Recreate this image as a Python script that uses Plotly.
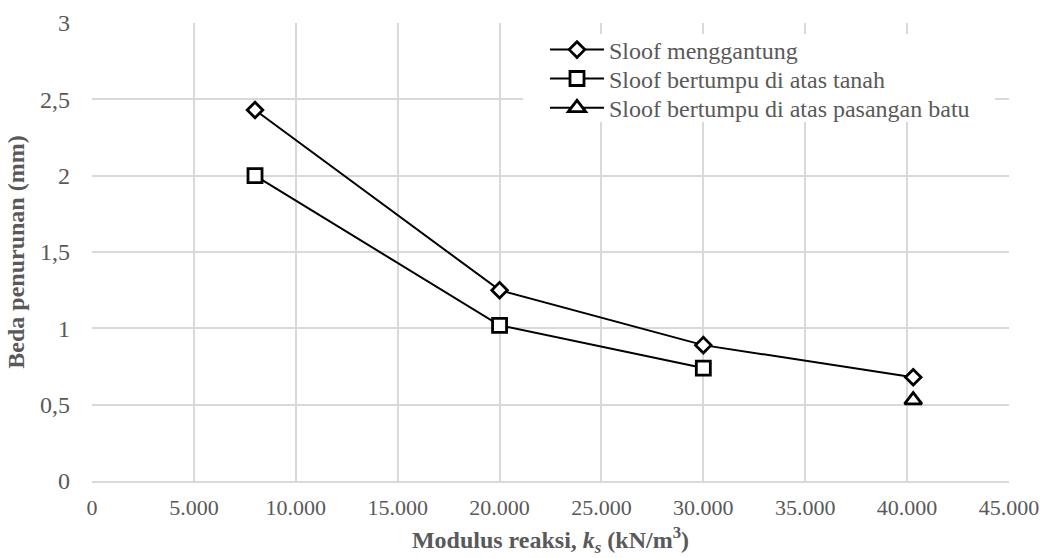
import plotly.graph_objects as go

# Data
ks_menggantung = [8000, 20000, 30000, 40300]
bp_menggantung = [2.43, 1.25, 0.89, 0.68]

ks_tanah = [8000, 20000, 30000]
bp_tanah = [2.00, 1.02, 0.74]

ks_batu = [40300]
bp_batu = [0.53]

names = ["Sloof menggantung", "Sloof bertumpu di atas tanah", "Sloof bertumpu di atas pasangan batu"]

FONT = "Liberation Serif, Times New Roman, serif"
TICK_COLOR = "#595959"
GRID = "#d9d9d9"
FS = 24

fig = go.Figure()
fig.add_trace(go.Scatter(
    x=ks_menggantung, y=bp_menggantung, name=names[0], mode="lines+markers",
    line=dict(color="black", width=2), legend="legend",
    marker=dict(symbol="diamond", size=12, color="white", line=dict(color="black", width=2.8)),
))
fig.add_trace(go.Scatter(
    x=ks_tanah, y=bp_tanah, name=names[1], mode="lines+markers",
    line=dict(color="black", width=2), legend="legend2",
    marker=dict(symbol="square", size=14, color="white", line=dict(color="black", width=2.8)),
))
fig.add_trace(go.Scatter(
    x=ks_batu, y=bp_batu, name=names[2], mode="lines+markers",
    line=dict(color="black", width=2), legend="legend3",
    marker=dict(symbol="triangle-up", size=15, color="white", line=dict(color="black", width=2.8)),
))

def leg(y):
    return dict(
        x=0.494, y=y, xanchor="left", yanchor="middle",
        bgcolor="rgba(0,0,0,0)", font=dict(family=FONT, size=FS, color=TICK_COLOR),
        itemwidth=54, tracegroupgap=0,
    )

# white background box behind the legend entries
fig.add_shape(type="rect", xref="paper", yref="paper",
              x0=0.470, x1=0.985, y0=0.784, y1=0.976,
              fillcolor="white", line=dict(width=0), layer="above")

fig.update_layout(
    width=1040, height=558,
    margin=dict(l=92, r=31, t=23, b=77, autoexpand=False),
    paper_bgcolor="white", plot_bgcolor="white",
    separators=",.",
    font=dict(family=FONT, size=FS, color=TICK_COLOR),
    showlegend=True,
    legend=leg(0.941),
    legend2=leg(0.878),
    legend3=leg(0.814),
    xaxis=dict(
        range=[0, 45000], dtick=5000, tick0=0, separatethousands=True, tickformat=",d",
        showgrid=True, gridcolor=GRID, gridwidth=1.5,
        showline=True, linecolor=GRID, linewidth=1.5,
        zeroline=False, ticks="", ticklabelstandoff=6, automargin=False,
        tickfont=dict(family=FONT, size=22, color=TICK_COLOR),
        title=dict(text="<b>Modulus reaksi, <i>k</i><sub><i>s</i></sub> (kN/m<sup>3</sup>)</b>",
                   font=dict(family=FONT, size=FS, color=TICK_COLOR), standoff=12),
    ),
    yaxis=dict(
        range=[0, 3], dtick=0.5, tick0=0,
        showgrid=True, gridcolor=GRID, gridwidth=1.5,
        showline=False, zeroline=False, ticks="", ticklabelstandoff=21, automargin=False,
        tickfont=dict(family=FONT, size=FS, color=TICK_COLOR),
        title=dict(text="<b>Beda penurunan (mm)</b>",
                   font=dict(family=FONT, size=FS, color=TICK_COLOR), standoff=8),
    ),
)

fig.write_html("out.html")
